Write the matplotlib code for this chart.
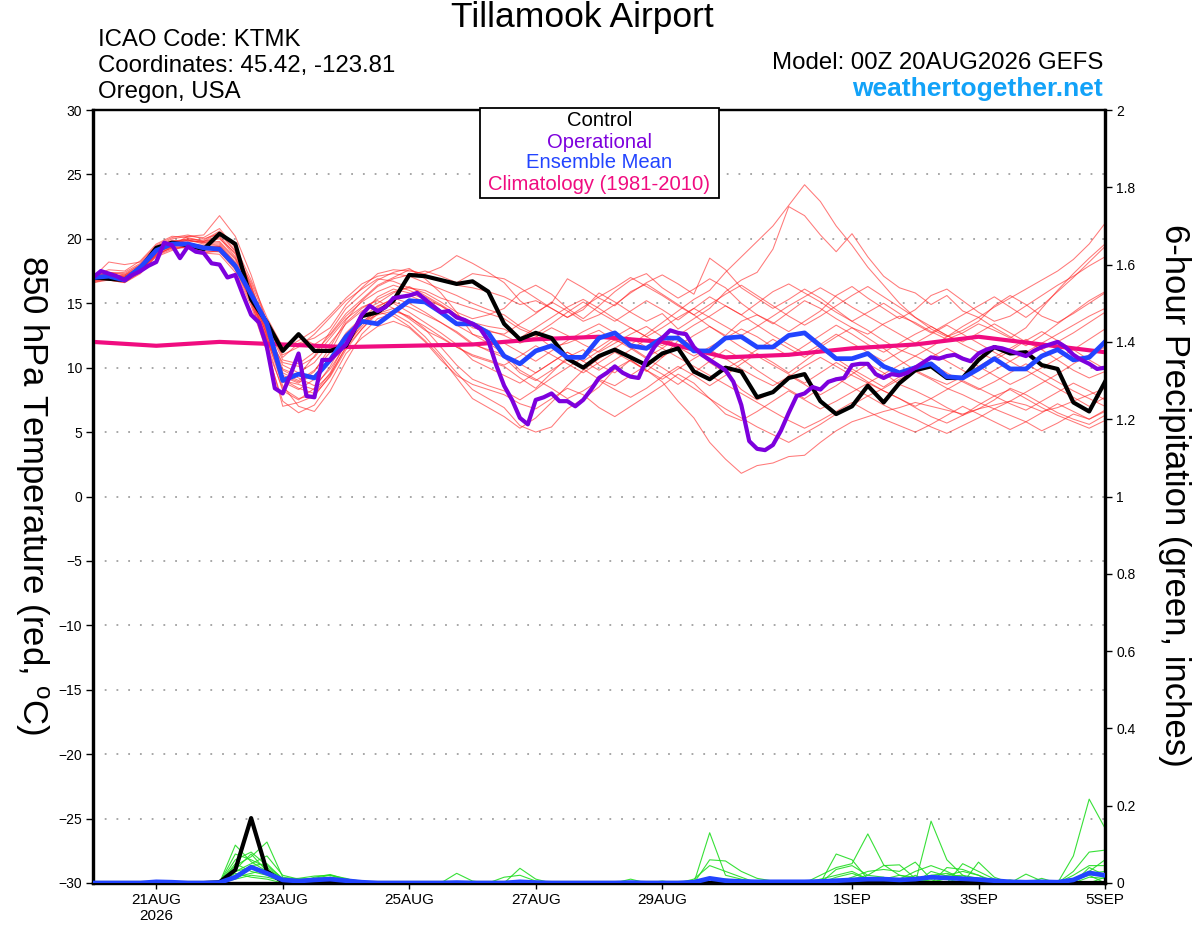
import numpy as np
import matplotlib
matplotlib.use("Agg")
import matplotlib.pyplot as plt
from matplotlib.patches import Rectangle
from matplotlib.ticker import FormatStrFormatter

plt.rcParams['font.family'] = ['Liberation Sans', 'DejaVu Sans']
plt.rcParams['mathtext.fontset'] = 'custom'
plt.rcParams['mathtext.rm'] = 'Liberation Sans'

# ---------------- data ----------------
# 6-hourly steps from 20AUG2026 00Z to 05SEP2026 00Z (65 values), x in days
date_ticks = [1, 3, 5, 7, 9, 12, 14, 16]
date_labels = ["21AUG\n2026", "23AUG", "25AUG", "27AUG", "29AUG", "1SEP", "3SEP", "5SEP"]

control_t = [17.0,16.9,16.8,17.7,19.3,19.7,19.5,19.2,20.4,19.6,15.3,13.5,11.3,12.6,11.3,11.3,11.7,14.0,14.3,15.2,
             17.2,17.1,16.8,16.5,16.7,15.9,13.4,12.2,12.7,12.3,10.7,10.0,10.9,11.4,10.8,10.2,11.1,11.5,9.7,9.1,
             10.0,9.7,7.7,8.1,9.2,9.5,7.4,6.4,7.0,8.6,7.3,8.8,9.8,10.1,9.2,9.2,10.6,11.6,11.1,11.2,
             10.2,9.9,7.3,6.6,8.9]

mean_t = [17.0,17.1,16.8,17.8,19.1,19.6,19.6,19.3,19.2,17.9,15.7,13.4,9.0,9.5,9.2,10.6,12.4,13.6,13.4,14.3,
          15.2,15.1,14.3,13.4,13.4,12.7,10.9,10.3,11.3,11.7,10.8,10.8,12.3,12.7,11.7,11.5,12.3,12.3,11.3,11.3,
          12.3,12.4,11.6,11.6,12.5,12.7,11.7,10.7,10.7,11.1,10.1,9.6,10.0,10.3,9.3,9.2,9.9,10.7,9.9,9.9,
          10.9,11.4,10.6,10.8,12.0]

# operational run, 3-hourly (129 values)
oper_t = [17.0,17.5,17.3,17.1,16.8,17.2,17.5,17.9,18.2,19.7,19.5,18.5,19.4,19.0,18.9,18.1,18.0,17.0,17.2,15.6,
          14.1,13.5,11.6,8.4,8.0,9.5,11.1,7.8,7.7,10.6,10.6,11.2,11.8,12.9,14.1,14.8,14.4,14.7,15.4,15.5,
          15.6,15.8,15.3,14.8,14.3,14.4,13.9,13.7,13.4,13.0,12.1,10.2,8.6,7.5,6.1,5.6,7.5,7.7,8.0,7.4,
          7.4,7.0,7.5,8.3,9.2,9.6,10.1,9.6,9.3,9.2,10.6,11.6,12.3,12.9,12.7,12.6,11.6,11.0,10.6,10.2,
          9.8,8.9,7.1,4.3,3.7,3.6,4.0,5.1,6.5,7.8,8.0,8.5,8.3,8.9,9.1,9.2,10.2,10.3,10.3,9.5,
          9.2,9.5,9.4,9.6,10.0,10.4,10.8,10.7,10.9,11.0,10.7,10.5,11.1,11.4,11.6,11.5,11.3,11.1,10.9,11.3,
          11.6,11.8,12.0,11.6,11.0,10.6,10.3,9.9,10.0]

# climatology, daily (17 values)
clim_t = [12.0,11.7,12.0,11.8,11.6,11.7,11.8,12.2,12.4,12.0,10.8,11.0,11.5,11.8,12.4,11.8,11.2]

# ensemble members, 850 hPa temperature (6-hourly, 65 values each)
m01 = [16.8,17.0,17.1,17.6,18.9,19.6,19.9,19.7,20.1,18.6,15.9,12.8,9.6,
       9.0,9.8,11.2,13.5,14.6,15.3,15.9,16.2,16.0,15.4,15.0,14.6,14.2,
       13.8,13.0,12.5,11.6,11.9,12.4,12.9,12.1,11.8,12.6,13.5,14.4,15.3,
       16.0,17.4,18.6,19.8,21.0,22.6,24.2,22.9,21.0,19.5,17.8,16.4,15.0,
       13.9,13.0,12.4,12.9,13.6,14.8,15.6,14.9,14.0,13.5,14.2,15.0,15.8]
m02 = [17.2,17.4,17.3,18.0,19.3,19.8,20.0,19.9,20.6,19.4,16.8,13.9,11.6,
       12.4,11.8,12.6,14.2,15.3,16.4,17.0,17.6,17.2,16.8,16.4,16.2,15.9,
       15.5,14.9,15.2,14.6,13.9,14.5,15.8,15.1,14.3,13.6,14.2,13.0,13.8,
       14.6,15.9,16.8,17.4,19.2,22.5,21.8,20.3,19.0,20.4,18.6,17.1,16.2,
       15.8,14.9,15.6,14.4,13.9,14.7,15.4,16.1,16.8,17.5,18.4,19.6,21.2]
m03 = [16.9,17.2,17.0,17.9,19.0,19.5,20.2,20.3,21.8,20.2,17.2,13.5,10.8,
       11.9,12.3,13.1,14.9,16.2,17.3,17.6,17.5,17.3,17.8,18.7,18.1,17.4,
       16.6,15.2,14.3,15.0,16.9,16.2,15.4,14.8,15.9,16.5,15.7,14.9,14.1,
       13.2,12.5,13.6,14.1,13.4,14.3,15.2,14.6,13.8,13.1,12.6,13.4,14.0,
       13.5,12.8,12.2,12.7,13.4,12.9,12.3,13.1,14.6,16.0,17.3,18.5,19.6]
m04 = [16.6,16.8,16.6,17.4,18.7,19.2,19.4,19.0,19.0,17.6,15.0,11.6,7.0,
       7.3,7.8,9.4,11.6,13.0,14.2,14.6,13.8,12.9,12.3,11.6,10.9,10.5,
       10.1,9.2,8.4,9.6,10.8,11.4,10.2,9.6,10.6,9.8,8.9,7.4,6.1,
       4.2,2.9,1.8,2.4,2.6,3.1,3.2,4.2,5.1,5.8,6.2,6.6,6.9,
       7.3,7.0,6.7,6.4,6.8,7.1,7.4,7.1,6.6,6.9,7.4,7.9,8.4]
m05 = [17.1,17.3,17.0,17.7,19.2,19.7,19.6,19.2,19.4,18.0,15.4,12.2,8.6,
       7.0,6.6,8.2,10.5,12.6,13.8,14.2,13.5,12.4,11.0,9.6,8.3,7.6,
       6.9,5.5,5.0,5.4,6.8,7.6,8.5,9.9,10.6,9.7,10.8,12.1,11.5,
       10.4,9.6,8.3,7.5,8.1,9.4,8.7,7.9,8.6,9.5,10.3,9.6,8.7,
       8.2,7.6,6.9,6.3,6.8,7.5,8.4,7.9,7.2,6.5,6.0,5.6,6.3]
m06 = [17.0,18.2,18.0,18.2,19.5,20.1,20.3,20.0,20.4,19.0,16.3,13.1,11.0,
       11.6,12.6,13.9,15.2,16.1,16.9,16.7,16.2,15.8,15.1,14.3,13.8,14.1,
       14.6,15.8,16.4,15.7,14.6,13.8,14.8,15.9,16.8,17.3,16.2,15.4,16.1,
       16.9,16.2,15.0,14.1,13.5,12.8,13.6,14.4,15.6,16.3,15.4,14.6,13.8,
       14.5,15.6,16.1,15.2,14.3,13.6,14.0,14.8,15.6,16.4,17.1,17.9,18.6]
m07 = [16.7,16.9,16.7,17.5,18.8,19.3,19.3,18.9,18.8,17.4,14.8,11.2,7.4,
       6.5,7.1,8.9,11.1,12.3,13.2,13.6,13.1,12.0,10.6,9.4,8.7,8.3,
       7.9,7.2,6.8,7.6,8.4,7.9,6.9,6.2,7.0,7.8,8.6,9.5,8.8,
       7.6,6.4,5.9,6.6,7.4,8.2,7.5,6.8,7.4,8.1,8.8,8.2,7.6,
       6.9,6.2,5.7,6.3,7.1,7.8,8.3,7.6,6.9,6.3,5.8,5.3,5.9]
m08 = [17.1,17.0,16.9,17.9,19.3,19.9,19.7,19.4,19.5,18.1,15.5,12.6,8.9,
       8.3,9.1,10.8,12.7,13.9,14.8,15.3,15.6,15.1,14.2,13.3,12.6,12.2,
       11.9,11.2,10.5,11.3,12.1,12.8,13.4,12.7,11.6,10.8,11.5,12.4,11.6,
       10.7,9.9,10.6,11.4,12.2,11.5,10.8,11.6,12.4,13.1,12.3,11.5,10.6,
       9.8,9.2,8.7,9.3,10.1,10.8,11.5,12.2,11.4,10.6,9.8,9.2,9.7]
m09 = [16.9,17.1,17.2,17.8,19.0,19.4,19.8,19.8,20.5,19.1,16.2,12.4,9.1,
       8.4,8.0,9.6,12.0,14.1,15.5,16.1,15.8,15.3,14.8,14.0,13.1,12.8,
       12.6,13.4,14.2,15.1,14.4,13.6,14.1,14.9,15.8,16.6,17.2,16.5,15.7,
       18.5,17.6,16.2,15.4,14.6,15.3,16.1,15.4,14.5,13.6,12.9,12.1,11.4,
       10.9,11.6,12.4,13.2,13.9,13.1,12.4,11.7,12.5,13.4,14.3,15.2,15.9]
m10 = [17.3,17.2,17.1,17.9,19.2,19.6,19.5,19.1,19.0,17.7,15.2,12.0,9.8,
       9.2,8.6,9.9,11.8,13.2,14.6,15.1,14.7,14.1,13.5,12.8,11.9,11.3,
       10.8,9.6,9.0,9.8,10.6,9.9,9.1,8.6,9.4,10.2,9.5,8.7,9.6,
       10.5,11.4,10.7,9.8,9.0,8.3,7.6,8.4,9.2,8.5,7.8,7.1,6.5,
       6.0,5.4,4.9,5.5,6.1,6.8,6.3,5.8,5.1,5.7,6.4,6.0,6.6]
m11 = [16.8,17.1,17.0,17.6,18.8,19.6,19.9,19.6,19.7,18.4,15.8,12.9,10.2,
       9.6,10.4,11.9,13.4,14.4,15.0,15.8,16.3,15.6,14.9,14.1,13.4,12.9,
       12.5,11.9,12.4,13.1,12.5,11.8,11.2,11.9,12.6,13.2,12.4,11.6,10.9,
       11.6,12.3,13.0,12.4,11.6,10.9,11.7,12.5,13.3,12.6,11.8,11.2,11.9,
       12.6,13.2,12.5,11.8,11.2,10.6,11.3,12.1,12.8,12.1,11.4,12.2,13.0]
m12 = [17.0,17.3,17.4,18.1,19.4,20.0,20.2,20.1,20.8,19.3,16.4,13.0,9.9,
       9.4,10.9,12.8,14.6,15.7,16.8,17.4,17.7,16.9,15.8,14.3,12.6,11.9,
       11.1,9.8,9.1,8.4,7.6,8.2,9.0,8.3,7.7,8.4,9.3,10.1,9.4,
       8.6,9.4,10.3,11.1,10.4,9.6,10.5,11.4,10.7,9.9,9.2,8.5,9.3,
       10.1,10.8,11.5,10.8,10.1,9.4,8.7,9.3,10.0,10.7,11.4,10.6,9.9]
m13 = [16.7,17.0,16.8,17.4,18.6,19.1,19.5,19.3,19.3,17.9,15.1,11.5,8.4,
       7.6,7.9,9.3,11.4,13.0,14.4,15.0,14.3,13.5,12.7,11.8,10.6,10.0,
       9.4,8.8,9.6,10.4,11.2,10.5,11.3,12.2,11.5,10.7,10.0,9.2,8.4,
       7.6,6.8,6.1,5.4,4.8,4.2,4.9,5.6,6.4,7.1,7.8,8.4,9.1,
       9.7,9.1,8.4,7.9,7.3,6.8,7.4,8.1,8.8,9.5,10.3,11.0,11.6]
m14 = [17.2,17.6,17.5,18.3,19.6,20.2,20.1,19.8,20.0,18.9,16.6,13.6,11.4,
       12.1,12.9,14.1,15.4,16.5,17.1,17.3,17.1,16.6,16.1,15.6,15.0,14.5,
       14.1,13.2,12.6,13.4,14.3,15.1,14.3,13.6,14.4,15.2,14.5,13.7,14.6,
       15.5,14.8,14.1,15.0,15.9,16.5,15.8,15.1,14.3,13.6,14.3,15.0,14.2,
       13.4,12.7,13.4,14.1,14.8,15.5,14.7,13.9,14.8,15.9,17.0,18.2,19.4]
m15 = [16.9,16.9,16.8,17.5,18.9,19.4,19.3,18.9,19.1,17.8,15.3,11.9,8.2,
       7.5,8.4,10.1,12.3,13.6,14.3,14.0,13.2,12.1,10.8,9.2,7.6,6.9,
       6.2,5.3,6.1,7.3,8.6,9.8,10.7,11.5,12.3,11.6,10.8,11.7,12.5,
       13.2,12.4,11.6,10.9,10.2,9.5,8.8,9.6,10.4,9.7,8.9,8.2,7.6,
       7.0,7.6,8.3,9.0,8.4,7.8,7.2,6.7,7.4,8.1,8.8,8.2,7.5]
m16 = [17.0,16.8,16.6,17.3,18.7,19.4,19.6,19.5,19.6,18.2,15.6,12.5,10.4,
       10.1,10.8,12.3,13.8,14.7,15.2,14.6,13.9,13.2,12.4,11.6,11.0,10.6,
       10.2,10.9,11.7,11.0,10.3,9.6,10.4,11.2,10.5,9.8,9.1,9.9,10.7,
       11.4,10.7,9.9,9.2,8.6,9.3,10.1,10.8,10.1,9.4,8.8,9.5,10.2,
       10.9,10.3,9.6,8.9,8.3,8.9,9.6,10.3,9.6,8.9,8.2,7.6,7.0]
m17 = [17.1,17.4,17.2,18.0,19.1,19.7,20.0,19.8,20.2,18.8,16.0,12.7,9.3,
       8.8,9.7,11.6,13.7,15.2,16.3,16.9,17.2,17.5,17.1,16.6,17.3,17.1,
       16.9,16.2,15.4,14.6,13.9,14.7,15.5,16.2,17.0,16.3,15.6,14.8,14.1,
       14.9,15.7,16.4,15.6,14.8,14.0,13.3,14.0,14.8,15.6,16.3,15.5,14.7,
       13.9,13.2,12.5,12.0,12.7,13.4,12.7,12.0,11.4,12.0,12.7,13.5,14.3]
m18 = [16.6,16.9,17.0,17.7,19.0,19.5,19.7,19.4,19.4,18.0,15.4,12.3,9.4,
       8.9,9.4,10.7,12.4,13.5,14.1,14.4,14.0,13.0,11.6,10.2,9.1,8.6,
       8.2,7.5,8.3,9.2,10.0,10.8,11.6,12.4,13.1,12.4,11.7,12.5,13.3,
       14.0,14.8,14.1,13.3,12.5,11.8,11.1,11.8,12.6,11.9,11.2,10.5,11.2,
       11.9,12.6,13.3,12.6,11.9,11.2,10.5,11.2,11.9,12.6,13.3,14.0,14.6]
m19 = [17.0,17.2,17.1,17.8,19.1,19.8,19.9,19.7,19.8,18.5,16.1,13.2,10.6,
       10.3,11.2,12.5,14.0,15.1,15.9,16.4,16.0,15.5,14.8,14.1,13.5,13.2,
       13.0,12.3,13.1,13.9,14.7,15.3,14.6,13.8,13.1,12.4,13.1,13.9,14.6,
       13.9,13.2,12.5,13.2,14.0,14.8,15.5,16.2,15.5,14.7,14.0,13.3,12.6,
       11.9,11.2,10.5,9.8,9.1,9.8,10.5,9.8,9.1,8.4,7.7,7.0,7.7]
m20 = [16.8,17.0,16.9,17.5,18.8,19.3,19.5,19.3,19.4,18.1,15.5,12.1,9.0,
       8.7,8.3,9.5,11.6,13.4,14.7,15.4,15.0,14.3,13.5,12.7,11.8,11.4,
       11.0,10.3,9.6,10.4,11.2,10.5,9.8,10.6,11.4,12.2,11.5,10.8,10.1,
       9.4,8.7,8.0,7.3,6.6,5.9,5.3,5.9,6.6,7.3,6.6,6.0,5.5,
       5.0,5.6,6.3,7.0,6.4,5.8,5.2,5.8,6.5,7.2,6.6,6.0,6.7]
members_t = [m01, m02, m03, m04, m05, m06, m07, m08, m09, m10,
             m11, m12, m13, m14, m15, m16, m17, m18, m19, m20]

# 6-hour precipitation (inches), 6-hourly, 65 values each
control_p = [0,0,0,0,0,0,0,0,0.002,0.034,0.168,0.03,0.003,
             0,0,0,0,0,0,0,0,0,0,0,0,0,
             0,0,0,0,0,0,0,0,0,0,0,0,0,
             0,0,0,0,0,0,0,0,0,0,0,0,0,
             0,0,0,0,0,0,0,0,0,0,0,0,0]
mean_p = [0,0,0,0,0.003,0.002,0,0,0.001,0.015,0.041,0.025,0.008,
          0.005,0.008,0.01,0.006,0.002,0,0,0,0,0,0.001,0,0,
          0,0.003,0.001,0,0,0,0,0,0.001,0,0,0,0.002,
          0.012,0.006,0.004,0.003,0.003,0.003,0.003,0.004,0.006,0.008,0.01,0.01,0.008,
          0.01,0.015,0.013,0.011,0.009,0.006,0.003,0.002,0.003,0.002,0.008,0.026,0.02]
p01 = [0,0,0,0,0.003,0,0,0,0,0.098,0.055,0.03,0.01,
       0.012,0.018,0.02,0.008,0,0,0,0,0,0,0,0,0,
       0,0,0,0,0,0,0,0,0,0,0,0,0,
       0.13,0.02,0.01,0,0,0,0,0,0,0,0,0,0,
       0,0.16,0.06,0.02,0,0,0,0,0,0,0.07,0.217,0.142]
p02 = [0,0,0,0,0,0,0,0,0,0.06,0.08,0.045,0.012,
       0,0.015,0.022,0.01,0,0,0,0,0,0,0,0,0,
       0,0.038,0.01,0,0,0,0,0,0,0,0,0,0,
       0.06,0.057,0.03,0.012,0.005,0,0,0,0.075,0.06,0.01,0,0,
       0.02,0,0,0.05,0.03,0.01,0,0,0,0,0.03,0.08,0.085]
p03 = [0,0,0,0,0,0,0,0,0,0.045,0.068,0.106,0.015,
       0.01,0.012,0.02,0.012,0,0,0,0,0,0,0.025,0.005,0,
       0,0,0,0,0,0,0,0,0.01,0,0,0,0,
       0,0,0,0,0,0,0,0.02,0.04,0.05,0.127,0.047,0.02,
       0.01,0,0,0,0.054,0.015,0,0,0,0,0.02,0.045,0.045]
p04 = [0,0,0,0,0,0,0,0,0,0.075,0.06,0.04,0.01,
       0,0.01,0.015,0,0,0,0,0,0,0,0,0,0,
       0.015,0.02,0.005,0,0,0,0,0,0,0,0,0,0.01,
       0.045,0.03,0.015,0,0,0,0,0,0.035,0.045,0.02,0.045,0.047,
       0.012,0,0.04,0.035,0.02,0,0,0,0.012,0,0,0.03,0.06]
p05 = [0,0,0,0,0,0,0,0,0.005,0.03,0.05,0.07,0.02,
       0.01,0.01,0.012,0.005,0,0,0,0,0,0,0,0,0,
       0,0,0,0,0,0,0,0,0,0,0,0,0,
       0,0,0,0,0,0,0,0,0,0.015,0.03,0.035,0.03,
       0.054,0.01,0.02,0.03,0.02,0.005,0,0.023,0.005,0,0,0.04,0.02]
p06 = [0,0,0,0,0,0,0,0,0,0.035,0.075,0.03,0.008,
       0,0.008,0.012,0.006,0,0,0,0,0,0,0,0,0,
       0,0,0,0,0,0,0,0,0,0,0,0,0,
       0,0,0,0,0,0,0,0.01,0.02,0.03,0.01,0,0.01,
       0.03,0.045,0.03,0.01,0,0,0,0,0,0,0.01,0.025,0.03]
p07 = [0,0,0,0,0,0,0,0,0,0.02,0.045,0.05,0.01,
       0,0,0.01,0.01,0.005,0,0,0,0,0,0,0,0,
       0,0,0,0,0.003,0,0,0,0,0,0,0,0,
       0,0,0,0,0,0.005,0.005,0,0,0.01,0.02,0.015,0,
       0,0.02,0.025,0.015,0.01,0,0,0,0,0,0,0.015,0.012]
p08 = [0,0,0,0,0,0,0,0,0,0.05,0.03,0.02,0.005,
       0,0.01,0.008,0,0,0,0,0,0,0,0,0,0,
       0,0,0,0,0,0,0,0,0,0,0.005,0,0,
       0.01,0.01,0.005,0,0,0,0,0,0,0.005,0,0.01,0.02,
       0.015,0,0.015,0.012,0,0,0.008,0,0,0,0,0,0]
p09 = [0,0,0,0,0,0,0,0,0,0.015,0.025,0.035,0.01,
       0,0,0.015,0.01,0,0,0,0,0,0.003,0,0,0,
       0,0,0,0,0,0,0,0,0,0,0,0,0,
       0,0,0,0,0,0,0,0,0.015,0.025,0.01,0,0,
       0,0.03,0.018,0.02,0.012,0,0,0,0,0,0.008,0.02,0]
p10 = [0,0,0,0,0,0,0,0,0,0.01,0.02,0.015,0.005,
       0,0.005,0.006,0,0,0,0,0,0,0,0,0,0,
       0,0,0,0,0,0,0,0,0,0,0,0,0,
       0,0.005,0,0,0,0,0,0,0,0,0,0,0,
       0.01,0.015,0.01,0,0,0,0,0,0.005,0.003,0,0,0]
p11 = [0,0,0,0,0,0,0,0,0,0.03,0.04,0.025,0.008,
       0,0,0.01,0.004,0,0,0,0,0,0,0,0,0,
       0,0,0,0,0,0,0,0,0,0,0,0,0,
       0,0,0,0,0,0,0,0,0,0,0.008,0.01,0,
       0,0,0.012,0.008,0,0,0,0,0,0,0,0,0.015]
p12 = [0,0,0,0,0,0,0,0,0,0.025,0.015,0.01,0,
       0,0.005,0.01,0,0,0,0,0,0,0,0,0,0,
       0,0,0,0,0,0,0,0,0,0,0,0,0,
       0,0,0,0,0,0,0,0,0,0,0,0,0,
       0,0.008,0,0.006,0.005,0,0,0,0,0,0,0,0]
members_p = [p01, p02, p03, p04, p05, p06, p07, p08, p09, p10, p11, p12]

# ---------------- figure ----------------
W, H = 1200, 927
fig = plt.figure(figsize=(W / 100, H / 100), dpi=100)
L, R, T, B = 93, 1105, 110, 883
ax = fig.add_axes([L / W, 1 - B / H, (R - L) / W, (B - T) / H])
ax2 = ax.twinx()

x6 = np.arange(len(control_t)) * 0.25
x3 = np.arange(len(oper_t)) * 0.125
xd = np.arange(len(clim_t)) * 1.0

for y in range(-25, 30, 5):
    ax.axhline(y, color='#a0a0a0', lw=1.3, ls=(0, (1, 5.5)), zorder=0)

for m in members_t:
    ax.plot(np.arange(len(m)) * 0.25, m, color='#ff2020', lw=0.75, alpha=0.6, zorder=1)

ax.plot(xd, clim_t, color='#f00c80', lw=3.0, zorder=3, solid_capstyle='butt')
ax.plot(x6, control_t, color='black', lw=3.0, zorder=4)
ax.plot(x6, mean_t, color='#2244ff', lw=3.4, zorder=5)
ax.plot(x3, oper_t, color='#7d00dd', lw=3.0, zorder=6)

for p in members_p:
    ax2.plot(np.arange(len(p)) * 0.25, p, color='#22dd22', lw=0.8, alpha=0.9, zorder=1)
ax2.plot(np.arange(len(mean_p)) * 0.25, mean_p, color='#2244ff', lw=3.4, zorder=3)
ax2.plot(np.arange(len(control_p)) * 0.25, control_p, color='black', lw=3.0, zorder=2)

ax.set_xlim(0, 16)
ax.set_ylim(-30, 30)
ax2.set_ylim(0, 2)
ax.set_yticks(np.arange(-30, 31, 5))
ax2.set_yticks(np.arange(0, 2.01, 0.2))
ax2.yaxis.set_major_formatter(FormatStrFormatter('%g'))
ax.set_xticks(date_ticks)
ax.set_xticklabels(date_labels)

ax.tick_params(axis='y', direction='out', length=5, width=1, labelsize=10, pad=3)
ax2.tick_params(axis='y', direction='out', length=5, width=1, labelsize=10, pad=3)
ax.tick_params(axis='x', direction='out', length=4, width=1, labelsize=11, pad=3)
ax2.tick_params(axis='x', length=0)

for a in (ax, ax2):
    a.spines['left'].set_linewidth(2.3)
    a.spines['right'].set_linewidth(2.3)
    a.spines['bottom'].set_linewidth(2.3)
    a.spines['top'].set_linewidth(1.6)

# ---------------- texts ----------------
def ft(x, y, s, **kw):
    fig.text(x / W, 1 - y / H, s, **kw)

ft(582, 18, "Tillamook Airport", ha='center', va='center', fontsize=25.5)
ft(98, 40, "ICAO Code: KTMK", ha='left', va='center', fontsize=17.3)
ft(98, 66, "Coordinates: 45.42, -123.81", ha='left', va='center', fontsize=17.3)
ft(98, 92, "Oregon, USA", ha='left', va='center', fontsize=17.3)
ft(1103, 63, "Model: 00Z 20AUG2026 GEFS", ha='right', va='center', fontsize=17.3)
ft(1103, 89, "weathertogether.net", ha='right', va='center', fontsize=19,
   fontweight='bold', color='#12a2f8')

ft(32, 495, "850 hPa Temperature (red, $\\mathregular{^o}$C)", ha='center', va='center',
   rotation=270, fontsize=25)
ft(1175, 495, "6-hour Precipitation (green, inches)", ha='center', va='center',
   rotation=270, fontsize=25)

box = Rectangle((480 / W, 1 - 198 / H), (719 - 480) / W, (198 - 108) / H,
                transform=fig.transFigure, facecolor='white', edgecolor='black',
                lw=1.3, zorder=10)
fig.add_artist(box)
leg_items = [("Control", 'black', 121), ("Operational", '#7d00dd', 142),
             ("Ensemble Mean", '#2244ff', 163), ("Climatology (1981-2010)", '#f00c80', 185)]
for s, c, yy in leg_items:
    fig.text(599.5 / W, 1 - yy / H, s, color=c, ha='center', va='center', fontsize=14.6, zorder=11)

fig.savefig("out.png", dpi=100)
